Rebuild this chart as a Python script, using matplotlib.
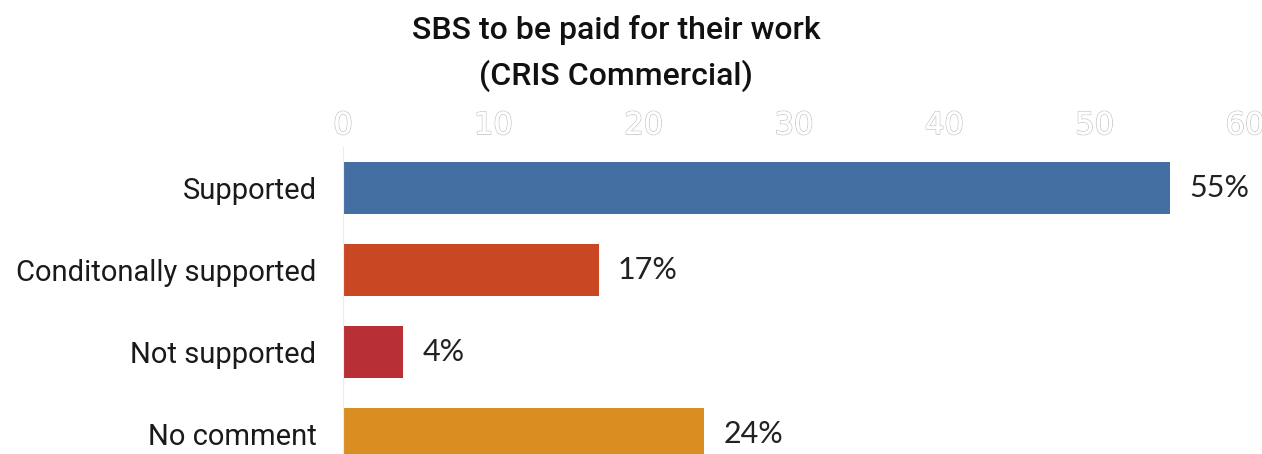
import matplotlib
matplotlib.use("Agg")
import matplotlib.pyplot as plt
import matplotlib.patheffects as pe

categories = ["Supported", "Conditonally supported", "Not supported", "No comment"]
values = [55, 17, 4, 24]
colors = ["#446fa3", "#c94722", "#b83036", "#da8e22"]
ticks = [0, 10, 20, 30, 40, 50, 60]

fig = plt.figure(figsize=(12.62, 4.54), dpi=100)
ax = fig.add_axes([0.2718, -0.0463, 0.7147, 0.7225])

ypos = list(range(len(categories)))
ax.barh(ypos, values, height=0.64, color=colors)
ax.set_xlim(0, 60)
ax.set_ylim(3.5, -0.5)

ax.set_yticks(ypos)
ax.set_yticklabels(categories, fontsize=21, family="Roboto", color="#1a1a1a")
ax.tick_params(axis="y", length=0, pad=19)

ax.xaxis.tick_top()
ax.set_xticks(ticks)
ax.set_xticklabels([str(t) for t in ticks], fontsize=22, color="white",
                   family=["Liberation Sans Narrow", "DejaVu Sans"])
for lbl in ax.get_xticklabels():
    lbl.set_path_effects([pe.withStroke(linewidth=1.2, foreground="#c8c8c8"), pe.Normal()])
ax.tick_params(axis="x", length=0, pad=5)

for s in ["top", "right", "bottom"]:
    ax.spines[s].set_visible(False)
ax.spines["left"].set_color("#ececec")

for y, v in zip(ypos, values):
    ax.annotate(f"{v}%", xy=(v, y), xytext=(14, 0), textcoords="offset points",
                va="center", ha="left", fontsize=22, family="Lato", color="#222222")

fig.text(0.488, 0.934, "SBS to be paid for their work", ha="center", va="center",
         fontsize=23, fontweight="medium", family="Roboto", color="#111111")
fig.text(0.488, 0.834, "(CRIS Commercial)", ha="center", va="center",
         fontsize=23, fontweight="medium", family="Roboto", color="#111111")

fig.savefig("out.png", dpi=100)
